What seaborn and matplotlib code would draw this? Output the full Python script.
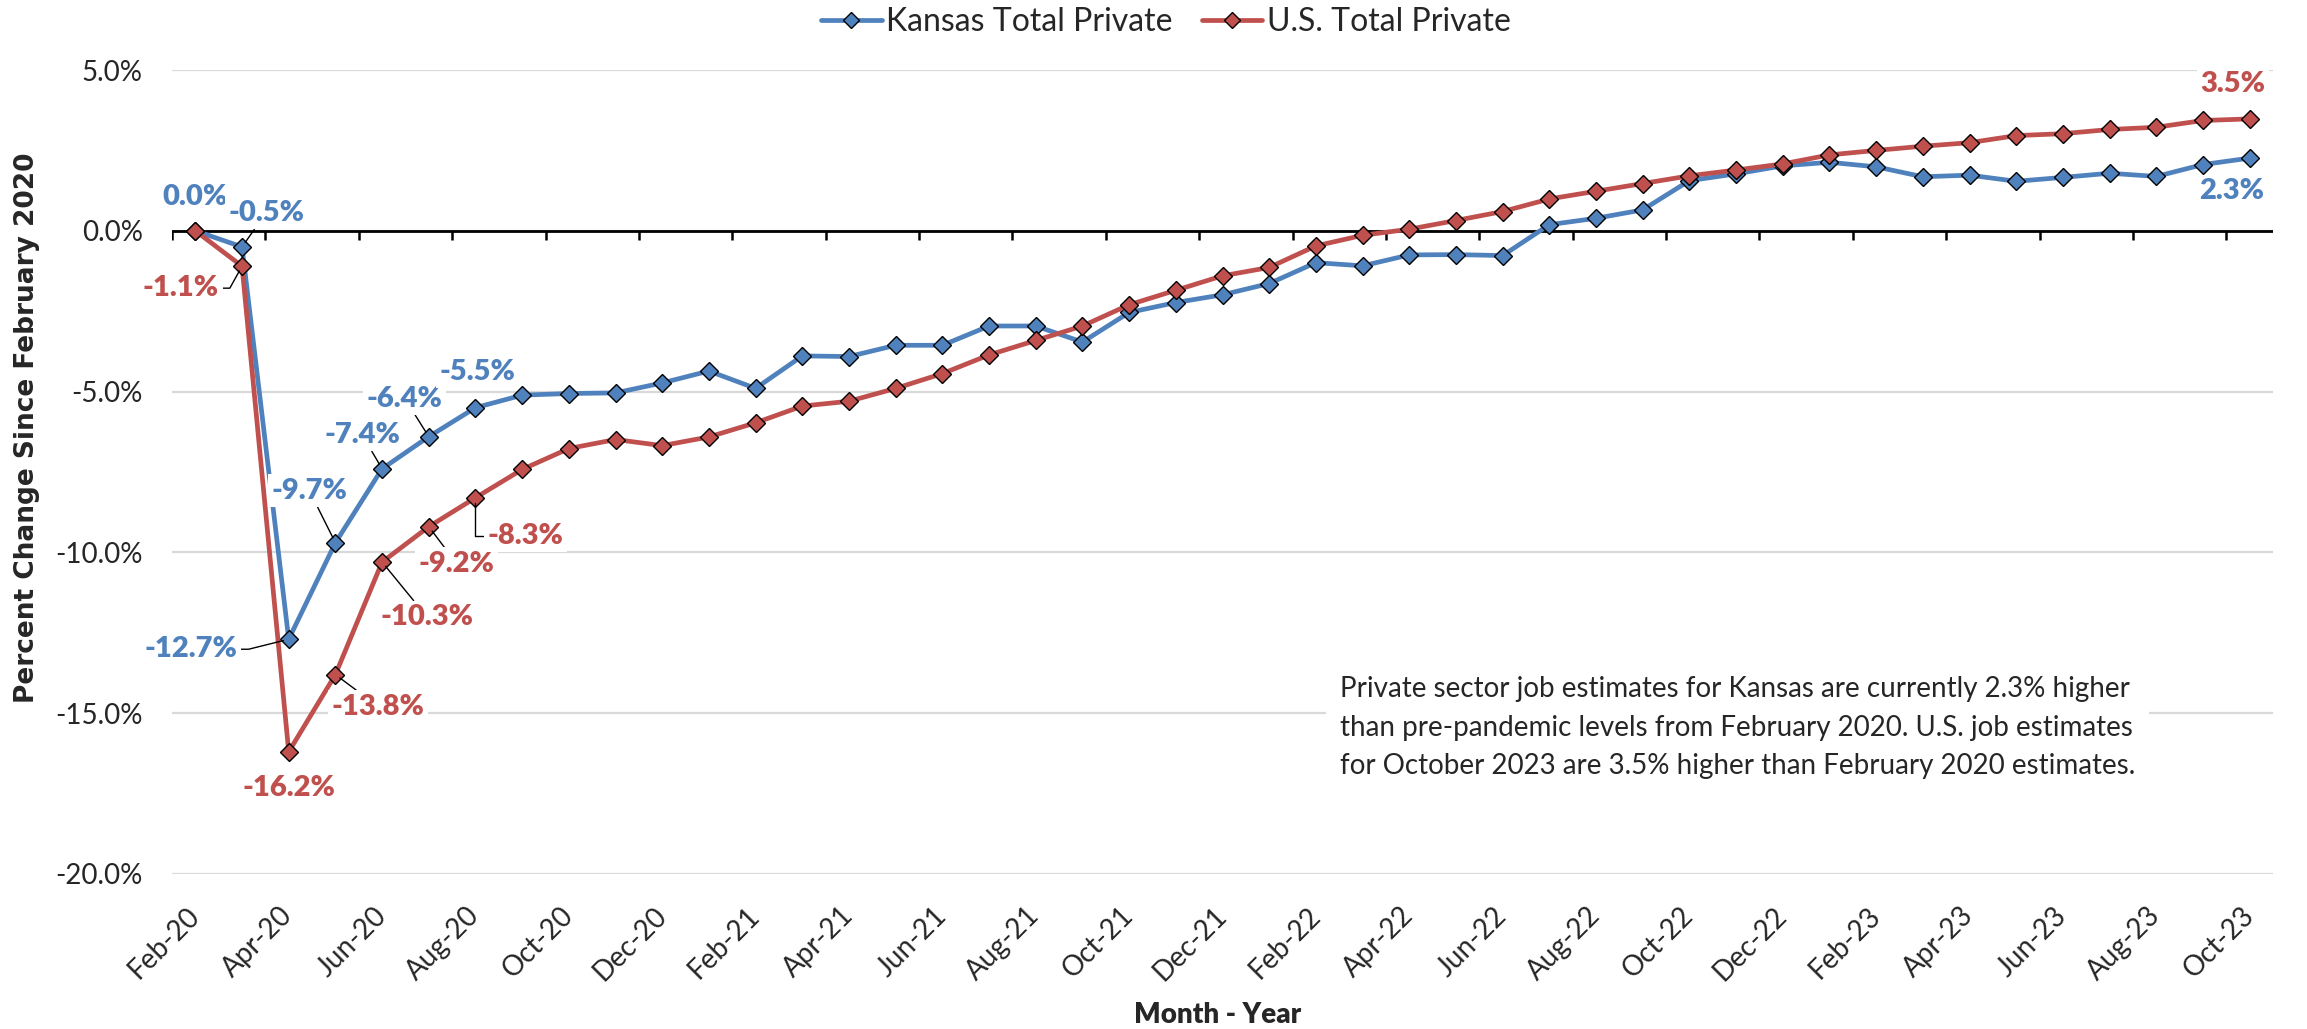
import numpy as np
import pandas as pd
import matplotlib
matplotlib.use("Agg")
import matplotlib.pyplot as plt
from matplotlib.lines import Line2D
import seaborn as sns

# category labels and series values (% change since Feb 2020)
months = pd.date_range("2020-02-01", "2023-10-01", freq="MS").strftime("%b-%y").tolist()

kansas = [0.0, -0.5, -12.7, -9.7, -7.4, -6.4, -5.5, -5.11, -5.06, -5.04,
          -4.73, -4.36, -4.9, -3.89, -3.91, -3.56, -3.56, -2.96, -2.96, -3.46,
          -2.54, -2.23, -1.99, -1.64, -0.99, -1.09, -0.75, -0.74, -0.77, 0.19,
          0.39, 0.65, 1.56, 1.77, 2.02, 2.13, 1.99, 1.68, 1.73, 1.54,
          1.66, 1.79, 1.69, 2.06, 2.26]

us = [0.0, -1.1, -16.2, -13.8, -10.3, -9.2, -8.3, -7.42, -6.77, -6.49,
      -6.68, -6.41, -5.97, -5.45, -5.30, -4.90, -4.44, -3.86, -3.41, -2.96,
      -2.30, -1.85, -1.40, -1.14, -0.47, -0.14, 0.05, 0.32, 0.60, 0.99,
      1.23, 1.47, 1.71, 1.89, 2.08, 2.36, 2.50, 2.63, 2.74, 2.96,
      3.02, 3.15, 3.22, 3.43, 3.48]

series_names = ["Kansas Total Private", "U.S. Total Private"]
series_colors = ["#4F81BD", "#C0504D"]
y_ticks = [5, 0, -5, -10, -15, -20]

note = ("Private sector job estimates for Kansas are currently 2.3% higher\n"
        "than pre-pandemic levels from February 2020. U.S. job estimates\n"
        "for October 2023 are 3.5% higher than February 2020 estimates.")

sns.set_theme(style="white")
plt.rcParams["font.family"] = ["Lato", "DejaVu Sans"]

W, H = 2307, 1029
fig = plt.figure(figsize=(W / 100, H / 100), dpi=100)
ax = fig.add_axes([172 / W, 1 - 874 / H, (2273 - 172) / W, (874 - 70) / H])

n = len(months)
df = pd.DataFrame({
    "idx": list(range(n)) * 2,
    "value": kansas + us,
    "series": [series_names[0]] * n + [series_names[1]] * n,
})

sns.lineplot(data=df, x="idx", y="value", hue="series", hue_order=series_names,
             palette=series_colors, marker="D", markersize=9,
             markeredgecolor="black", markeredgewidth=1, linewidth=3.4,
             legend=False, ax=ax, zorder=3)

ax.set_xlim(-0.5, n - 0.5)
ax.set_ylim(-20, 5)
for s in ax.spines.values():
    s.set_visible(False)

ax.yaxis.grid(True, color="#D9D9D9", linewidth=1.6)
ax.set_axisbelow(True)
ax.axhline(0, color="black", linewidth=2, zorder=2)
# category-axis tick marks sit on the zero line, between categories
ax.vlines(np.arange(-0.5, n - 1, 2), 0, -0.28, color="black", linewidth=1.8, zorder=2)

ax.set_yticks(y_ticks)
ax.set_yticklabels([f"{v:.1f}%" for v in y_ticks], fontsize=20)
ax.set_xticks(range(0, n, 2))
ax.set_xticklabels(months[::2], fontsize=20, rotation=45, ha="right", va="center",
                   rotation_mode="anchor")
ax.tick_params(axis="x", length=0, pad=27)
ax.tick_params(axis="y", length=0, pad=21)
ax.set_xlabel("")
ax.set_ylabel("")


def label(series, i, dx, dy, color, conn=None):
    val = series[i]
    props = None
    if conn is not None:
        props = dict(arrowstyle="-", color="black", linewidth=1,
                     shrinkA=0, shrinkB=4, connectionstyle=conn)
    ax.annotate(f"{val:.1f}%", xy=(i, val), xytext=(dx, dy), textcoords="offset pixels",
                ha="center", va="center", fontsize=21, fontweight="heavy", color=color,
                bbox=dict(boxstyle="square,pad=0.12", fc="white", ec="none"),
                arrowprops=props, zorder=5)


blue, red = series_colors
straight = "arc3"
label(kansas, 0, 0, 34, blue)
label(kansas, 1, 24, 34, blue, straight)
label(kansas, 2, -98, -10, blue, "angle,angleA=0,angleB=14,rad=0")
label(kansas, 3, -26, 52, blue, straight)
label(kansas, 4, -20, 34, blue, straight)
label(kansas, 5, -24, 38, blue, straight)
label(kansas, 6, 2, 36, blue)
label(kansas, n - 1, -18, -33, blue)

label(us, 1, -61, -22, red, "angle,angleA=0,angleB=61,rad=0")
label(us, 2, 0, -36, red)
label(us, 3, 43, -32, red, straight)
label(us, 4, 45, -55, red, straight)
label(us, 5, 28, -37, red, straight)
label(us, 6, 50, -38, red, "angle,angleA=0,angleB=90,rad=0")
label(us, n - 1, -17, 35, red)

fig.text(1340 / W, 1 - 676 / H, note, ha="left", va="top", fontsize=20,
         linespacing=1.6,
         bbox=dict(boxstyle="square,pad=0.5", fc="white", ec="none"))

handles = [Line2D([], [], color=c, linewidth=3.4, marker="D", markersize=8,
                  markeredgecolor="black", markeredgewidth=1) for c in series_colors]
fig.legend(handles, series_names, loc="center", bbox_to_anchor=(1166 / W, 1 - 22 / H),
           ncol=2, frameon=False, fontsize=23, handlelength=1.9, handletextpad=0.15,
           columnspacing=0.9)

fig.text(27 / W, 1 - 428 / H, "Percent Change Since February 2020", rotation=90,
         ha="center", va="center", fontsize=19, fontweight="bold",
         family="DejaVu Sans")
fig.text(1218 / W, 1 - 1015 / H, "Month - Year", ha="center", va="center",
         fontsize=20, fontweight="heavy")

fig.savefig("out.png", dpi=100)
